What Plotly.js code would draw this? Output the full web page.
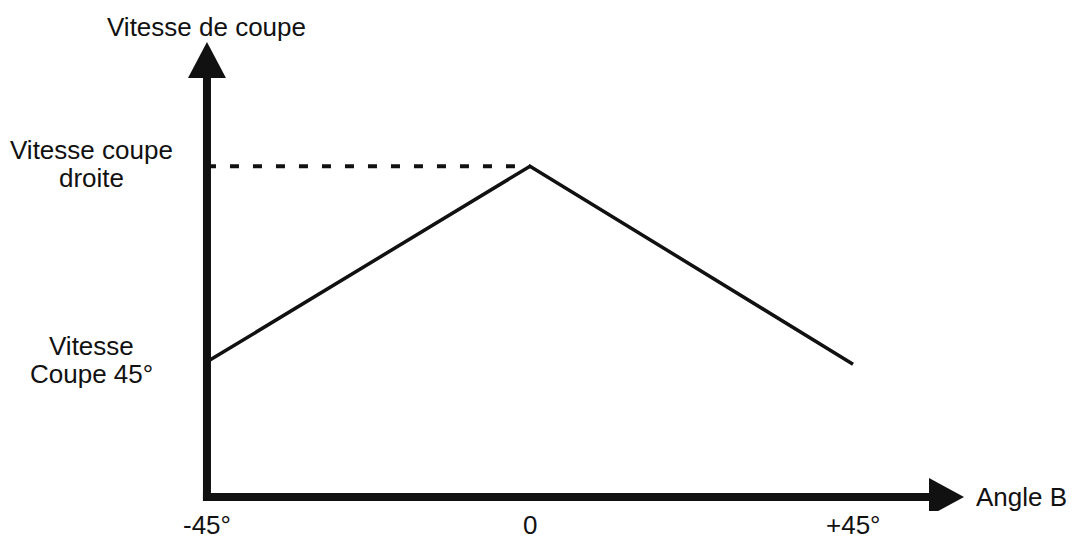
<!DOCTYPE html>
<html>
<head>
<meta charset="utf-8">
<script src="https://cdn.plot.ly/plotly-3.0.1.min.js"></script>
<style>
  html, body { margin: 0; padding: 0; background: #ffffff; }
  #chart { width: 1072px; height: 543px; }
</style>
</head>
<body>
<div id="chart"></div>
<script>
// ---- data (schematic) ----
const angles = [-45, 0, 45];                 // Angle B (degrees)
const speeds = [29.7, 72.7, 29.2];           // Vitesse de coupe (relative units)
const xTickVals = [-45, 0, 45];
const xTickText = ["-45°", "0", "+45°"];
const yTickVals = [72.7, 29.7];
const yTickText = ["Vitesse coupe<br>droite", "Vitesse<br>Coupe 45°"];
const refAngle = [-45, 0];                   // dashed reference line
const refSpeed = [72.7, 72.7];
const yTitle = "Vitesse de coupe";
const xTitle = "Angle B";

// ---- styling / layout ----
const FONT = "Liberation Sans, Arial, Helvetica, sans-serif";
const INK = "#111111";
const FS = 26;
const X_MIN = -45, X_ARROW = 60.46, Y_MIN = 0, Y_ARROW = 100;
const xRange = [-50.15, 62.13];
const yRange = [-3.077, 103.08];

const traces = [
  {
    x: refAngle, y: refSpeed, type: "scatter", mode: "lines",
    line: { color: INK, width: 4, dash: "9px,14px" },
    hoverinfo: "skip", showlegend: false
  },
  {
    x: angles, y: speeds, type: "scatter", mode: "lines",
    line: { color: INK, width: 3.5 },
    showlegend: false
  }
];

const annotations = [];
// y "tick" labels, centred, one annotation per line
yTickVals.forEach((v, i) => {
  const lines = yTickText[i].split("<br>");
  const n = lines.length;
  lines.forEach((t, k) => {
    annotations.push({
      x: X_MIN, xref: "x", y: v, yref: "y",
      text: t, showarrow: false, xanchor: "center", yanchor: "middle",
      xshift: -115, yshift: ((n - 1) / 2 - k) * 28 + 2,
      font: { family: FONT, size: FS, color: INK }
    });
  });
});
// x tick labels
xTickVals.forEach((v, i) => {
  annotations.push({
    x: v, xref: "x", y: 0, yref: "paper",
    text: xTickText[i], showarrow: false, xanchor: "center", yanchor: "middle",
    yshift: -14,
    font: { family: FONT, size: FS, color: INK }
  });
});
// axis titles
annotations.push({
  x: X_MIN, xref: "x", y: 1, yref: "paper",
  text: yTitle, showarrow: false, xanchor: "center", yanchor: "middle",
  yshift: 1,
  font: { family: FONT, size: FS, color: INK }
});
annotations.push({
  x: X_ARROW, xref: "x", y: Y_MIN, yref: "y",
  text: xTitle, showarrow: false, xanchor: "left", yanchor: "middle",
  xshift: 10,
  font: { family: FONT, size: FS, color: INK }
});

const shapes = [
  // vertical axis
  { type: "line", xref: "x", yref: "y", x0: X_MIN, x1: X_MIN, y0: Y_MIN - 0.88, y1: 92.5,
    line: { color: INK, width: 8 } },
  // horizontal axis
  { type: "line", xref: "x", yref: "y", x0: X_MIN - 0.56, x1: 56.0, y0: Y_MIN, y1: Y_MIN,
    line: { color: INK, width: 8 } },
  // y arrowhead
  { type: "path", xref: "x", yref: "y", xsizemode: "pixel", ysizemode: "pixel",
    xanchor: X_MIN, yanchor: Y_ARROW,
    path: "M -19,-36 L 19,-36 L 0,0 Z",
    fillcolor: INK, line: { color: INK, width: 0 } },
  // x arrowhead
  { type: "path", xref: "x", yref: "y", xsizemode: "pixel", ysizemode: "pixel",
    xanchor: X_ARROW, yanchor: Y_MIN,
    path: "M 0,0 L -35,19 L -35,-19 Z",
    fillcolor: INK, line: { color: INK, width: 0 } }
];

const layout = {
  width: 1072, height: 543,
  margin: { l: 170, r: 96, t: 28, b: 32, pad: 0 },
  paper_bgcolor: "#ffffff", plot_bgcolor: "#ffffff",
  showlegend: false,
  xaxis: { range: xRange, showgrid: false, zeroline: false, showline: false,
           showticklabels: false, ticks: "", fixedrange: true },
  yaxis: { range: yRange, showgrid: false, zeroline: false, showline: false,
           showticklabels: false, ticks: "", fixedrange: true },
  shapes: shapes,
  annotations: annotations,
  font: { family: FONT, size: FS, color: INK }
};

Plotly.newPlot("chart", traces, layout, { displayModeBar: false, staticPlot: true });
</script>
</body>
</html>
